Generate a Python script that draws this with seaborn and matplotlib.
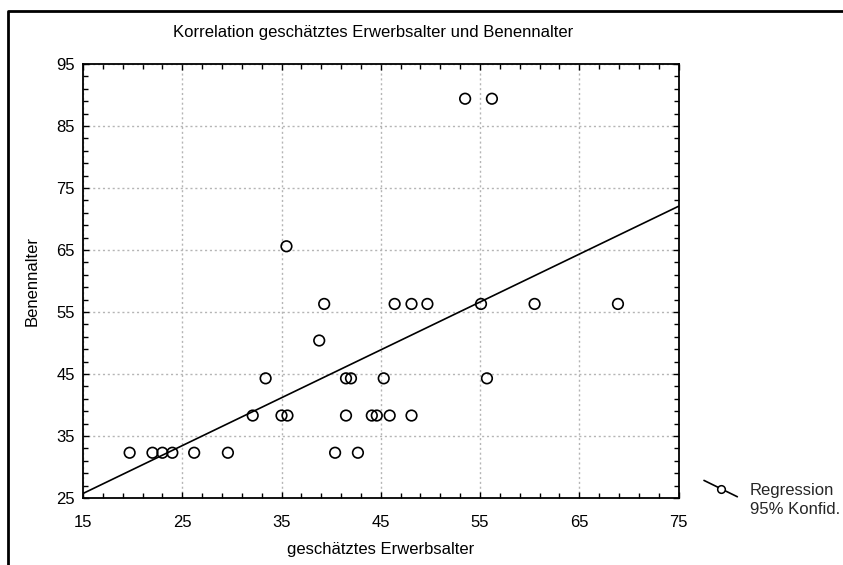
import numpy as np
import pandas as pd
import matplotlib
matplotlib.use("Agg")
import matplotlib.pyplot as plt
from matplotlib.lines import Line2D
from matplotlib.legend_handler import HandlerBase
from matplotlib.ticker import MultipleLocator
import seaborn as sns

# ---- data ----
erwerbsalter = [19.7, 22.0, 23.0, 24.0, 26.2, 29.6, 40.4, 42.7,
                32.1, 35.0, 35.6, 41.5, 44.1, 44.6, 45.9, 48.1,
                33.4, 41.5, 42.0, 45.3, 55.7,
                38.8,
                39.3, 46.4, 48.1, 49.7, 55.1, 60.5, 68.9,
                35.5,
                53.5, 56.2]
benennalter = [32.3] * 8 + [38.3] * 8 + [44.3] * 5 + [50.4] + [56.3] * 7 + [65.6] + [89.4] * 2

x_ticks = [15, 25, 35, 45, 55, 65, 75]
y_ticks = [25, 35, 45, 55, 65, 75, 85, 95]
title = "Korrelation geschätztes Erwerbsalter und Benennalter"
x_label = "geschätztes Erwerbsalter"
y_label = "Benennalter"
legend_labels = ["Regression", "95% Konfid."]

df = pd.DataFrame({"x": erwerbsalter, "y": benennalter})

sns.set_theme(style="white")
plt.rcParams["font.family"] = ["Liberation Sans", "DejaVu Sans"]
plt.rcParams["font.size"] = 12

FS = 12
W, H = 843, 565
fig = plt.figure(figsize=(W / 100, H / 100), dpi=100)
fig.patch.set_facecolor("white")

def fx(px):
    return px / W

def fy(py):
    return 1 - py / H

ax = fig.add_axes([fx(83), fy(498), fx(678.5) - fx(83), fy(64) - fy(498)])
ax.set_xlim(15, 75)
ax.set_ylim(25, 95)

sns.scatterplot(data=df, x="x", y="y", ax=ax, marker="o", s=58,
                facecolors="none", edgecolor="black", linewidth=1.2,
                legend=False, zorder=3)
sns.regplot(data=df, x="x", y="y", ax=ax, scatter=False, ci=None,
            truncate=False, color="black", line_kws={"linewidth": 1.2, "zorder": 2})

ax.set_xticks(x_ticks)
ax.set_yticks(y_ticks)
ax.xaxis.set_minor_locator(MultipleLocator(2, offset=1))
ax.yaxis.set_minor_locator(MultipleLocator(2, offset=1))
ax.tick_params(which="both", direction="in", top=True, right=True,
               bottom=True, left=True, color="black", labelsize=FS,
               labelcolor="black")
ax.tick_params(which="major", length=4, width=1)
ax.tick_params(axis="x", which="major", pad=12)
ax.tick_params(axis="y", which="major", pad=6)
ax.tick_params(which="minor", length=3.5, width=1)
ax.grid(True, which="major", linestyle=(0, (1.5, 2)), color="#b5b5b5", linewidth=1)
for s in ax.spines.values():
    s.set_visible(True)
    s.set_color("black")
    s.set_linewidth(1.3)

ax.set_xlabel(x_label, fontsize=FS, color="black", labelpad=9)
ax.set_ylabel(y_label, fontsize=FS, color="black", labelpad=12)
fig.text(fx(373), fy(33), title, ha="center", va="center", fontsize=FS, color="black")

# frame lines (left and top)
fig.add_artist(Line2D([fx(8), fx(8), fx(843)], [fy(565), fy(11), fy(11)],
                      transform=fig.transFigure, color="black", linewidth=2))


class DiagonalHandler(HandlerBase):
    def create_artists(self, legend, orig_handle, xdescent, ydescent,
                       width, height, fontsize, trans):
        x0, x1 = -xdescent, -xdescent + width
        y0, y1 = -ydescent + height * 1.25, -ydescent - height * 0.15
        line = Line2D([x0, x1], [y0, y1], color="black", linewidth=1.2, transform=trans)
        mk = Line2D([(x0 + x1) / 2], [(y0 + y1) / 2], marker="o", markersize=5.5,
                    markerfacecolor="white", markeredgecolor="black",
                    markeredgewidth=1.1, linestyle="none", transform=trans)
        return [line, mk]


h1 = Line2D([], [], color="black")
h2 = Line2D([], [], alpha=0)
fig.legend([h1, h2], legend_labels, handler_map={h1: DiagonalHandler()},
           loc="upper left", bbox_to_anchor=(fx(704), fy(483)),
           frameon=False, handlelength=2.0, handletextpad=0.75,
           labelspacing=0.25, fontsize=FS, borderpad=0, borderaxespad=0)

fig.savefig("out.png", dpi=100, facecolor="white")
